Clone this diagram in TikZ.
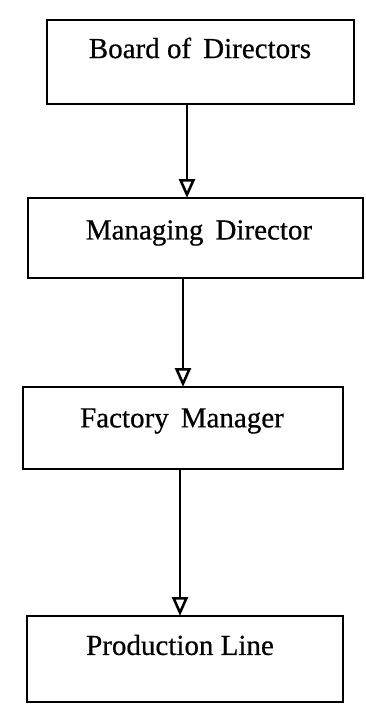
\documentclass[tikz,border=0pt]{standalone}
\usepackage{fontspec}
\setmainfont{Liberation Serif}[FakeBold=0.6]
\usetikzlibrary{arrows.meta}
\begin{document}
\begin{tikzpicture}[x=1pt,y=-1pt,
  box/.style={draw, line width=2.2pt, rectangle, inner sep=0pt, outer sep=0pt},
  lbl/.style={inner sep=0pt, font=\fontsize{29}{34}\selectfont},
  arr/.style={line width=2.2pt, -{Triangle[open, length=19pt, width=16pt, line width=2.6pt]}}]
\useasboundingbox (0,0) rectangle (366,709);
% boxes
\node[box, minimum width=307pt, minimum height=84pt] (b1) at (200.5,62) {};
\node[box, minimum width=335pt, minimum height=80pt] (b2) at (195.5,238) {};
\node[box, minimum width=320pt, minimum height=82pt] (b3) at (183,428) {};
\node[box, minimum width=316pt, minimum height=86pt] (b4) at (185,659) {};
% labels
\node[lbl] (t1) at (200,48) {Board of\, Directors};
\node[lbl] (t2) at (199,233) {Managing\, Director};
\node[lbl] (t3) at (182,421) {Factory\, Manager};
\node[lbl] (t4) at (180,645) {Production Line};
% connectors
\draw[arr] ([xshift=-13.5pt]b1.south) -- ([xshift=-8.5pt]b2.north);
\draw[arr] ([xshift=-12.5pt]b2.south) -- (b3.north);
\draw[arr] ([xshift=-3pt]b3.south) -- ([xshift=-5pt]b4.north);
\end{tikzpicture}
\end{document}
